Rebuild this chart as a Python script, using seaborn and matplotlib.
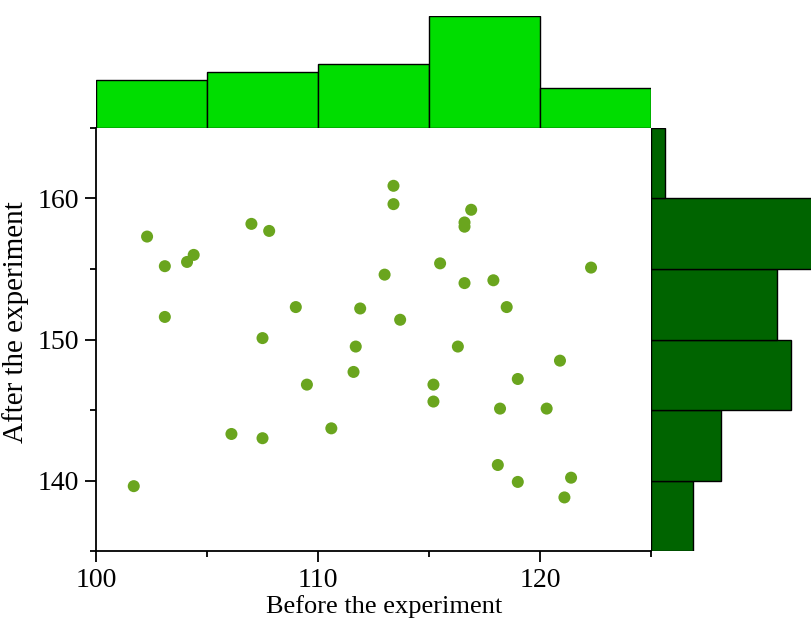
import pandas as pd
import seaborn as sns
import matplotlib.pyplot as plt
from matplotlib.ticker import MultipleLocator

# values
before = [101.7, 102.3, 103.1, 103.1, 104.1, 104.4, 106.1, 107.0, 107.8, 107.5,
          107.5, 109.0, 109.5, 110.6, 111.6, 111.7, 111.9, 113.0, 113.4, 113.4,
          113.7, 115.5, 115.2, 115.2, 116.3, 116.6, 116.6, 116.6, 116.9, 117.9,
          118.5, 118.2, 119.0, 118.1, 119.0, 120.3, 120.9, 121.4, 121.1, 122.3]
after = [139.6, 157.3, 155.2, 151.6, 155.5, 156.0, 143.3, 158.2, 157.7, 150.1,
         143.0, 152.3, 146.8, 143.7, 147.7, 149.5, 152.2, 154.6, 160.9, 159.6,
         151.4, 155.4, 146.8, 145.6, 149.5, 154.0, 158.3, 158.0, 159.2, 154.2,
         152.3, 145.1, 147.2, 141.1, 139.9, 145.1, 148.5, 140.2, 138.8, 155.1]
x_bins = [100, 105, 110, 115, 120, 125]
y_bins = [135, 140, 145, 150, 155, 160, 165]

df = pd.DataFrame({"Before the experiment": before, "After the experiment": after})

sns.set_style("white")
plt.rcParams['font.family'] = ['Liberation Serif', 'DejaVu Serif']
plt.rcParams['text.color'] = 'black'
plt.rcParams['axes.labelcolor'] = 'black'
plt.rcParams['xtick.color'] = 'black'
plt.rcParams['ytick.color'] = 'black'

fig = plt.figure(figsize=(8.11, 6.21), dpi=100)
ax = fig.add_axes([0.1184, 0.1127, 0.6843, 0.6812])
ax_top = fig.add_axes([0.1184, 0.7939, 0.6843, 0.1803], sharex=ax)
ax_right = fig.add_axes([0.8027, 0.1127, 0.1973, 0.6812], sharey=ax)

sns.scatterplot(data=df, x="Before the experiment", y="After the experiment",
                ax=ax, color="#6aa51e", s=75, edgecolor="none", zorder=3)

sns.histplot(data=df, x="Before the experiment", bins=x_bins, ax=ax_top,
             color="#00dd00", alpha=1, edgecolor="black", linewidth=1)
sns.histplot(data=df, y="After the experiment", bins=y_bins, ax=ax_right,
             color="#006400", alpha=1, edgecolor="black", linewidth=1)

ax.set_xlim(100, 125)
ax.set_ylim(135, 165)
ax.xaxis.set_major_locator(MultipleLocator(10))
ax.xaxis.set_minor_locator(MultipleLocator(5))
ax.yaxis.set_major_locator(MultipleLocator(10))
ax.yaxis.set_minor_locator(MultipleLocator(5))
ax.tick_params(which="major", direction="out", length=8, width=1.3, pad=4,
               labelsize=20, bottom=True, left=True, color="black")
ax.tick_params(which="minor", direction="out", length=4.5, width=1.3,
               bottom=True, left=True, color="black")
for side in ["top", "right"]:
    ax.spines[side].set_visible(False)
for side in ["left", "bottom"]:
    ax.spines[side].set_color("black")
    ax.spines[side].set_linewidth(1.3)
ax.set_xlabel("Before the experiment", fontsize=19)
ax.set_ylabel("After the experiment", fontsize=21)
ax.xaxis.set_label_coords(0.52, -0.105)
ax.yaxis.set_label_coords(-0.12, 0.54)

ax_top.set_ylim(0, 14)
ax_right.set_xlim(0, 11.43)
for a in [ax_top, ax_right]:
    a.axis("off")

fig.savefig("out.png", dpi=100)
